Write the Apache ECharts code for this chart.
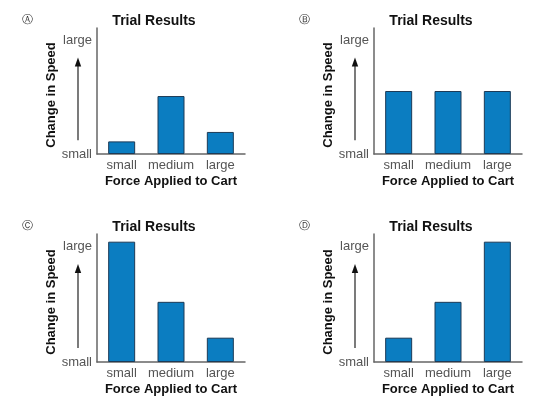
<!DOCTYPE html>
<html>
<head>
<meta charset="utf-8">
<script src="https://cdn.jsdelivr.net/npm/echarts@6/dist/echarts.min.js"></script>
<style>
    html, body { margin: 0; padding: 0; background: #fff; }
    #main { width: 533px; height: 400px; }
</style>
</head>
<body>
<div id="main"></div>
<script>
// 数据
var categories = ['small', 'medium', 'large'];
var panelLetters = ['Ⓐ', 'Ⓑ', 'Ⓒ', 'Ⓓ'];
var valuesA = [1.0, 4.6, 1.75];
var valuesB = [5.0, 5.0, 5.0];
var valuesC = [9.4, 4.7, 1.9];
var valuesD = [1.9, 4.7, 9.4];
var yTickLabels = { 0: 'small', 9: 'large' };
var arrowFrom = 1.1, arrowTo = 7.65;

var panels = [valuesA, valuesB, valuesC, valuesD];
// 每个小图的位置
var grids = [
    { left: 97, top: 28, width: 148, height: 126 },
    { left: 374, top: 28, width: 148, height: 126 },
    { left: 97, top: 234, width: 148, height: 128 },
    { left: 374, top: 234, width: 148, height: 128 }
];
var font = '"Liberation Sans", Arial, sans-serif';

var myChart = echarts.init(document.getElementById('main'));

var option = {
    animation: false,
    title: [],
    grid: [],
    xAxis: [],
    yAxis: [],
    series: [],
    graphic: []
};

panels.forEach(function (vals, i) {
    var g = grids[i];
    option.grid.push({ left: g.left, top: g.top, width: g.width, height: g.height });
    option.title.push({
        text: 'Trial Results',
        left: g.left + 52,
        top: g.top - 19,
        textAlign: 'center',
        textStyle: { fontFamily: font, fontSize: 14, fontWeight: 'bold', color: '#111' }
    });
    option.xAxis.push({
        gridIndex: i,
        type: 'category',
        data: categories,
        name: 'Force Applied to Cart',
        nameLocation: 'middle',
        nameGap: 21,
        nameTextStyle: { fontFamily: font, fontSize: 13, fontWeight: 'bold', color: '#111' },
        axisLine: { lineStyle: { color: '#666', width: 1.5 } },
        axisTick: { show: false },
        axisLabel: { fontFamily: font, fontSize: 13, color: '#555', margin: 5, interval: 0 }
    });
    option.yAxis.push({
        gridIndex: i,
        type: 'value',
        min: 0,
        max: 10,
        interval: 1,
        name: 'Change in Speed',
        nameLocation: 'middle',
        nameGap: 37,
        nameTextStyle: { fontFamily: font, fontSize: 13, fontWeight: 'bold', color: '#111', padding: [0, 8, 0, 0] },
        axisLine: { show: true, lineStyle: { color: '#666', width: 1.5 } },
        axisTick: { show: false },
        splitLine: { show: false },
        axisLabel: {
            fontFamily: font, fontSize: 13, color: '#555', margin: 5,
            formatter: function (v) { return yTickLabels[v] || ''; }
        }
    });
    option.series.push({
        type: 'bar',
        xAxisIndex: i,
        yAxisIndex: i,
        data: vals,
        barWidth: 27,
        itemStyle: { color: '#0b7dc1', borderColor: '#1d3b57', borderWidth: 1 }
    });
    option.graphic.push({
        type: 'text',
        left: g.left - 75,
        top: g.top - 13,
        style: { text: panelLetters[i], font: '11px "DejaVu Sans"', fill: '#333' }
    });
});

myChart.setOption(option);

// 箭头
var arrows = [];
panels.forEach(function (vals, i) {
    var x = grids[i].left - 19;
    var y1 = myChart.convertToPixel({ yAxisIndex: i }, arrowFrom);
    var y2 = myChart.convertToPixel({ yAxisIndex: i }, arrowTo);
    arrows.push({
        type: 'line',
        shape: { x1: x, y1: y1, x2: x, y2: y2 + 6 },
        style: { stroke: '#222', lineWidth: 1.2 }
    });
    arrows.push({
        type: 'polygon',
        shape: { points: [[x, y2], [x - 3.2, y2 + 9], [x + 3.2, y2 + 9]] },
        style: { fill: '#111' }
    });
});
myChart.setOption({ graphic: option.graphic.concat(arrows) });
</script>
</body>
</html>
